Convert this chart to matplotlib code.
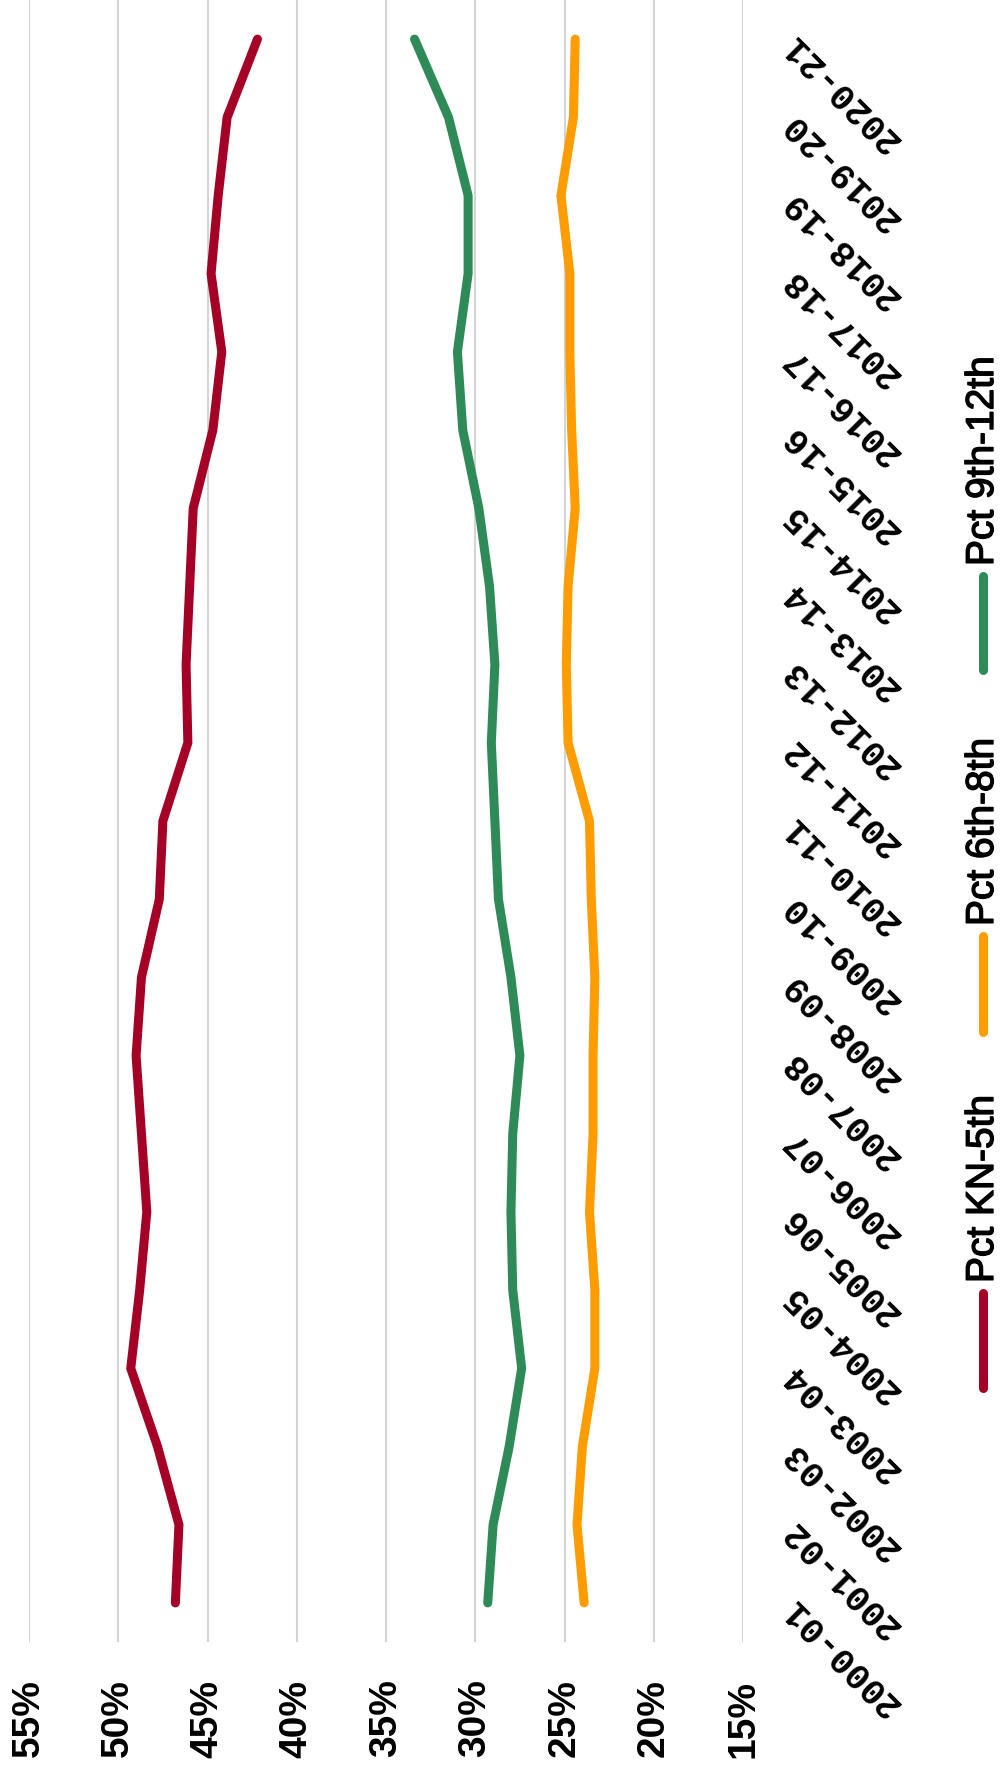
import matplotlib
matplotlib.use("Agg")
import matplotlib.pyplot as plt
import matplotlib.patheffects as pe
from matplotlib.lines import Line2D

# school years and share of enrollment by grade band (%)
years = ["2000-01", "2001-02", "2002-03", "2003-04", "2004-05", "2005-06", "2006-07",
         "2007-08", "2008-09", "2009-10", "2010-11", "2011-12", "2012-13", "2013-14",
         "2014-15", "2015-16", "2016-17", "2017-18", "2018-19", "2019-20", "2020-21"]
pct_kn_5 = [46.8, 46.6, 47.8, 49.3, 48.8, 48.4, 48.7, 49.0, 48.7, 47.7, 47.5,
            46.1, 46.2, 46.0, 45.8, 44.7, 44.2, 44.8, 44.4, 43.9, 42.2]
pct_6_8 = [23.9, 24.3, 24.0, 23.3, 23.3, 23.6, 23.4, 23.4, 23.3, 23.5, 23.6,
           24.8, 24.9, 24.8, 24.4, 24.6, 24.7, 24.7, 25.2, 24.5, 24.4]
pct_9_12 = [29.3, 29.0, 28.1, 27.4, 27.9, 28.0, 27.9, 27.5, 28.0, 28.7, 28.9,
            29.1, 28.9, 29.2, 29.8, 30.7, 31.0, 30.4, 30.4, 31.5, 33.4]
pct_ticks = [55, 50, 45, 40, 35, 30, 25, 20, 15]

series = [("Pct KN-5th", pct_kn_5, "#a50026"),
          ("Pct 6th-8th", pct_6_8, "#ff9c00"),
          ("Pct 9th-12th", pct_9_12, "#2e8b57")]

W, H = 1006, 1769
fig = plt.figure(figsize=(W / 100, H / 100), dpi=100)
ax = fig.add_axes([29 / W, 1 - 1642 / H, (743 - 29) / W, 1642 / H])

LW = 6.5
pos = list(range(len(years)))
for name, vals, color in series:
    ax.plot(vals, pos, color=color, lw=LW, solid_capstyle="round",
            solid_joinstyle="miter")

ax.set_xlim(55, 15)
ax.set_ylim(-0.5, len(years) - 0.5)
ax.set_xticks(pct_ticks)
ax.set_xticklabels([f"{t}%" for t in pct_ticks], rotation=90,
                   fontsize=28, fontweight="bold", family="Liberation Sans")
ax.tick_params(axis="x", length=0, pad=27)
ax.grid(axis="x", color="#d4d4d4", lw=1.5)
ax.set_axisbelow(True)
for s in ax.spines.values():
    s.set_visible(False)

ax.yaxis.tick_right()
ax.set_yticks(pos)
ax.set_yticklabels(years, fontsize=26, fontweight="bold", family="Liberation Mono")
ax.tick_params(axis="y", length=0, pad=32)
for lab in ax.get_yticklabels():
    lab.set_rotation(135)
    lab.set_rotation_mode("anchor")
    lab.set_ha("right")
    lab.set_va("center")

# vertical legend on the right edge: handle below each label
legend_x = 983
entries = [("Pct KN-5th", "#a50026", 1293, 1388),
           ("Pct 6th-8th", "#ff9c00", 936, 1032),
           ("Pct 9th-12th", "#2e8b57", 576, 670)]
for label, color, y0, y1 in entries:
    fig.add_artist(Line2D([legend_x / W, legend_x / W], [1 - y0 / H, 1 - y1 / H],
                          transform=fig.transFigure, color=color, lw=LW,
                          solid_capstyle="round"))
    fig.text(legend_x / W, 1 - (y0 - 10) / H, label, rotation=90,
             ha="center", va="bottom", fontsize=28, family="Liberation Sans",
             path_effects=[pe.withStroke(linewidth=1.0, foreground="black")])

fig.savefig("out.png", dpi=100, facecolor="white")
